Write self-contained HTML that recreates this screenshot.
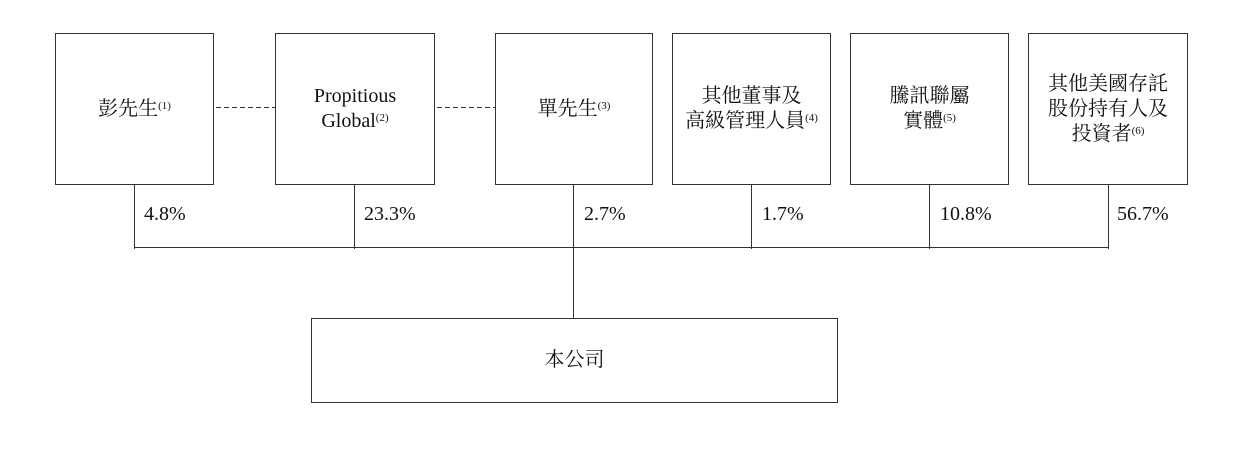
<!DOCTYPE html>
<html><head><meta charset="utf-8"><style>
body{margin:0;width:1244px;height:458px;background:#fff;position:relative;font-family:"Liberation Serif","Noto Serif CJK SC",serif;color:#111}
.b{position:absolute;border:1.3px solid #333;box-sizing:border-box;display:flex;align-items:center;justify-content:center;text-align:center;font-size:20px;line-height:25px}
.l{position:absolute;background:#333}
.p{position:absolute;font-size:20px;top:203px}
sup{font-size:11px;vertical-align:6px;line-height:0}
.d{position:absolute;top:107px;height:1.3px;background:repeating-linear-gradient(90deg,#333 0 5px,transparent 5px 8px)}
</style></head><body>
<div class="b" style="left:55px;top:33px;width:159px;height:152px"><span>彭先生<sup>(1)</sup></span></div>
<div class="b" style="left:275px;top:33px;width:160px;height:152px"><span>Propitious<br>Global<sup>(2)</sup></span></div>
<div class="b" style="left:495px;top:33px;width:158px;height:152px"><span>單先生<sup>(3)</sup></span></div>
<div class="b" style="left:672px;top:33px;width:159px;height:152px"><span>其他董事及<br>高級管理人員<sup>(4)</sup></span></div>
<div class="b" style="left:850px;top:33px;width:159px;height:152px"><span>騰訊聯屬<br>實體<sup>(5)</sup></span></div>
<div class="b" style="left:1028px;top:33px;width:160px;height:152px"><span>其他美國存託<br>股份持有人及<br>投資者<sup>(6)</sup></span></div>
<div class="d" style="left:216px;width:59px"></div>
<div class="d" style="left:437px;width:58px"></div>
<div class="l" style="left:134px;top:184px;width:1.3px;height:65px"></div>
<div class="l" style="left:354px;top:184px;width:1.3px;height:65px"></div>
<div class="l" style="left:573px;top:184px;width:1.3px;height:135px"></div>
<div class="l" style="left:751px;top:184px;width:1.3px;height:65px"></div>
<div class="l" style="left:929px;top:184px;width:1.3px;height:65px"></div>
<div class="l" style="left:1108px;top:184px;width:1.3px;height:65px"></div>
<div class="l" style="left:134px;top:247px;width:975px;height:1.3px"></div>
<div class="p" style="left:144px">4.8%</div>
<div class="p" style="left:364px">23.3%</div>
<div class="p" style="left:584px">2.7%</div>
<div class="p" style="left:762px">1.7%</div>
<div class="p" style="left:940px">10.8%</div>
<div class="p" style="left:1117px">56.7%</div>
<div class="b" style="left:311px;top:318px;width:527px;height:85px"><span>本公司</span></div>
</body></html>
